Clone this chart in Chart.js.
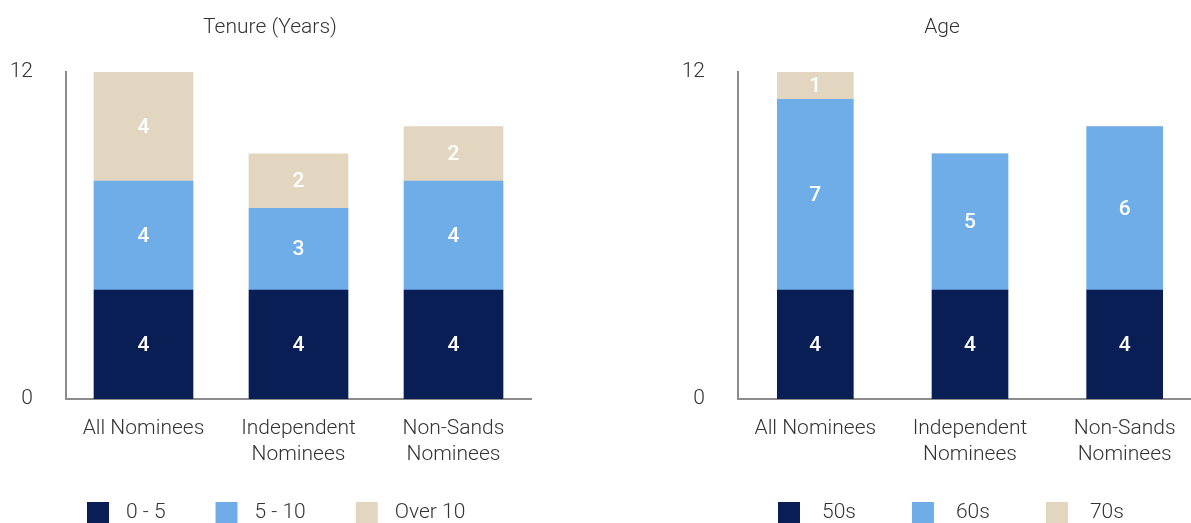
<!DOCTYPE html>
<html>
<head>
<meta charset="utf-8">
<script src="https://cdn.jsdelivr.net/npm/chart.js@4"></script>
<style>
  body { margin: 0; width: 1191px; height: 523px; overflow: hidden; background: #fff; position: relative; }
  canvas { position: absolute; top: 0; }
  #tenureChart { left: 0; }
  #ageChart { left: 672px; }
</style>
</head>
<body>
<canvas id="tenureChart" width="540" height="523"></canvas>
<canvas id="ageChart" width="540" height="523"></canvas>
<script>
const groups = [['All Nominees'], ['Independent', 'Nominees'], ['Non-Sands', 'Nominees']];
const yTicks = [0, 12];

const tenure0to5 = [4, 4, 4];
const tenure5to10 = [4, 3, 4];
const tenureOver10 = [4, 2, 2];

const age50s = [4, 4, 4];
const age60s = [7, 5, 6];
const age70s = [1, 0, 0];

const navy = '#081e55';
const blue = '#6eade8';
const beige = '#e2d6c0';

Chart.defaults.font.family = 'Roboto';
Chart.defaults.font.size = 21;
Chart.defaults.font.weight = 300;
Chart.defaults.color = '#333';

// numbers in the middle of each segment
const barLabels = {
    id: 'barLabels',
    afterDatasetsDraw(chart) {
        const ctx = chart.ctx;
        ctx.save();
        ctx.fillStyle = '#fff';
        ctx.font = '500 21px Roboto';
        ctx.textAlign = 'center';
        ctx.textBaseline = 'middle';
        chart.data.datasets.forEach((ds, i) => {
            chart.getDatasetMeta(i).data.forEach((bar, j) => {
                if (!ds.data[j]) return;
                ctx.fillText(ds.data[j], bar.x, (bar.y + bar.base) / 2 + 1);
            });
        });
        ctx.restore();
    }
};

// square boxes + names under the plot, wider gaps than the built-in legend allows
const boxLegend = {
    id: 'boxLegend',
    afterDraw(chart, args, opts) {
        const ctx = chart.ctx;
        ctx.save();
        ctx.font = '300 21px Roboto';
        ctx.textBaseline = 'middle';
        ctx.textAlign = 'left';
        let x = opts.x;
        chart.data.datasets.forEach(ds => {
            ctx.fillStyle = ds.backgroundColor;
            ctx.fillRect(x, opts.y, 22, 22);
            ctx.fillStyle = '#333';
            ctx.fillText(ds.label, x + 22 + opts.gap, opts.y + 11);
            x += 22 + opts.gap + ctx.measureText(ds.label).width + opts.spacing;
        });
        ctx.restore();
    }
};

function drawChart(id, title, names, series, barWidth, legend, rightGap) {
    const colors = [navy, blue, beige];
    return new Chart(document.getElementById(id), {
        type: 'bar',
        data: {
            labels: groups,
            datasets: series.map((d, i) => ({
                label: names[i],
                data: d,
                backgroundColor: colors[i],
                barThickness: barWidth
            }))
        },
        options: {
            responsive: false,
            animation: false,
            layout: { padding: 0 },
            scales: {
                x: {
                    stacked: true,
                    grid: { display: false, drawTicks: false },
                    border: { display: true, color: '#8c8c8c', width: 2 },
                    ticks: { padding: 17, maxRotation: 0, font: { lineHeight: 1.24 } },
                    afterFit: s => { s.height = 124; }
                },
                y: {
                    stacked: true,
                    min: yTicks[0],
                    max: yTicks[1],
                    grid: { display: false, drawTicks: false },
                    border: { display: true, color: '#8c8c8c', width: 2 },
                    afterBuildTicks: s => { s.ticks = yTicks.map(v => ({ value: v })); },
                    ticks: { padding: 33 },
                    afterFit: s => { s.width = 66; }
                },
                gap: {
                    type: 'linear',
                    position: 'right',
                    grid: { display: false },
                    border: { display: false },
                    ticks: { display: false },
                    afterFit: s => { s.width = rightGap; }
                }
            },
            plugins: {
                title: {
                    display: true,
                    text: title,
                    color: '#333',
                    font: { size: 21, weight: 300 },
                    padding: { top: 15.4, bottom: 31.4 }
                },
                legend: { display: false },
                boxLegend: legend,
                tooltip: { enabled: false }
            }
        },
        plugins: [barLabels, boxLegend]
    });
}

drawChart('tenureChart', 'Tenure (Years)', ['0 - 5', '5 - 10', 'Over 10'],
    [tenure0to5, tenure5to10, tenureOver10], 99,
    { x: 87, y: 502, gap: 17, spacing: 50 }, 9);
drawChart('ageChart', 'Age', ['50s', '60s', '70s'],
    [age50s, age60s, age70s], 76,
    { x: 106, y: 502, gap: 22, spacing: 56 }, 10);
</script>
</body>
</html>
